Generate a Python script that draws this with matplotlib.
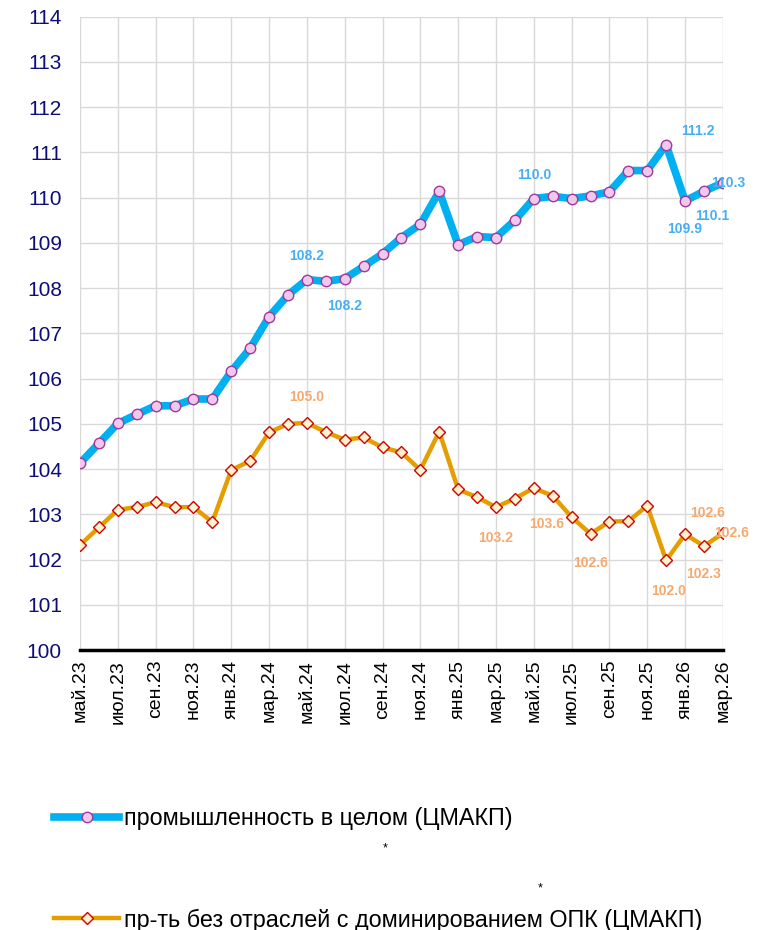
import matplotlib.pyplot as plt
import numpy as np

plt.rcParams['font.family'] = ['Liberation Sans', 'DejaVu Sans']

# months May 2023 .. Mar 2026
months = ["май.23", "июн.23", "июл.23", "авг.23", "сен.23", "окт.23", "ноя.23", "дек.23",
          "янв.24", "фев.24", "мар.24", "апр.24", "май.24", "июн.24", "июл.24", "авг.24",
          "сен.24", "окт.24", "ноя.24", "дек.24", "янв.25", "фев.25", "мар.25", "апр.25",
          "май.25", "июн.25", "июл.25", "авг.25", "сен.25", "окт.25", "ноя.25", "дек.25",
          "янв.26", "фев.26", "мар.26"]

industry_total = [104.13, 104.57, 105.01, 105.21, 105.40, 105.40, 105.55, 105.55,
                  106.16, 106.67, 107.37, 107.85, 108.19, 108.15, 108.21, 108.48,
                  108.76, 109.12, 109.41, 110.14, 108.96, 109.14, 109.12, 109.50,
                  109.98, 110.03, 109.98, 110.04, 110.13, 110.60, 110.60, 111.17,
                  109.93, 110.14, 110.33]

industry_ex_defense = [102.32, 102.71, 103.10, 103.16, 103.27, 103.16, 103.16, 102.83,
                       103.98, 104.18, 104.81, 105.00, 105.02, 104.82, 104.65, 104.70,
                       104.48, 104.37, 103.98, 104.83, 103.55, 103.38, 103.16, 103.35,
                       103.58, 103.41, 102.94, 102.57, 102.84, 102.85, 103.19, 101.98,
                       102.56, 102.30, 102.58]

# labelled points: (index, x offset pt, y offset pt)
total_labels = [(12, 0, 17), (14, 0, -20), (24, 0, 17), (31, 23, 10), (32, 0, -20),
                (33, 6, -18), (34, 4, 0)]
ex_labels = [(12, 0, 19), (22, 0, -22), (24, 9, -26), (27, 0, -21), (31, 2, -22),
             (32, 16, 15), (33, 0, -20), (34, 6, 0)]

label_names = ["промышленность в целом (ЦМАКП)",
               "пр-ть без отраслей с доминированием ОПК (ЦМАКП)"]

x = np.arange(len(months))

fig = plt.figure(figsize=(7.69, 9.30), dpi=100)
ax = fig.add_axes([0.104, 0.301, 0.836, 0.681])

l1, = ax.plot(x, industry_total, color="#00B0F0", lw=5.5, marker="o", ms=7.5,
              mfc="#F0C8EC", mec="#A03A9A", mew=1.0, zorder=3)
l2, = ax.plot(x, industry_ex_defense, color="#E59E00", lw=3.2, marker="D", ms=6.5,
              mfc="#FFF2CC", mec="#D00000", mew=1.0, zorder=3)

for i, dx, dy in total_labels:
    ax.annotate(f"{industry_total[i]:.1f}", (x[i], industry_total[i]), xytext=(dx, dy),
                textcoords="offset points", ha="center", va="center",
                fontsize=10, fontweight="bold", color="#45AEF5", zorder=4)
for i, dx, dy in ex_labels:
    ax.annotate(f"{industry_ex_defense[i]:.1f}", (x[i], industry_ex_defense[i]), xytext=(dx, dy),
                textcoords="offset points", ha="center", va="center",
                fontsize=10, fontweight="bold", color="#F7A86C", zorder=4)

ax.set_xlim(0, len(months) - 1)
ax.set_ylim(100, 114)
ax.set_yticks(np.arange(100, 115, 1))
ax.set_xticks(x[::2])
ax.set_xticklabels(months[::2], rotation=90, fontsize=14)
ax.tick_params(axis="y", labelsize=15, labelcolor="#0D0D7A", length=0, pad=13)
ax.tick_params(axis="x", length=0, pad=7)
ax.grid(True, color="#D9D9D9", lw=1.0)
ax.set_axisbelow(True)
for s in ["top", "right", "left"]:
    ax.spines[s].set_visible(False)
ax.spines["bottom"].set_linewidth(2.5)
ax.spines["bottom"].set_color("black")

fig.legend([l1, l2], label_names, loc="upper left", bbox_to_anchor=(0.058, 0.142),
           frameon=False, fontsize=16.8, handlelength=2.8, handletextpad=0.2,
           labelspacing=3.35, borderaxespad=0)
fig.text(0.501, 0.085, "*", fontsize=9, ha="center")
fig.text(0.703, 0.042, "*", fontsize=9, ha="center")

fig.savefig("out.png", dpi=100)
